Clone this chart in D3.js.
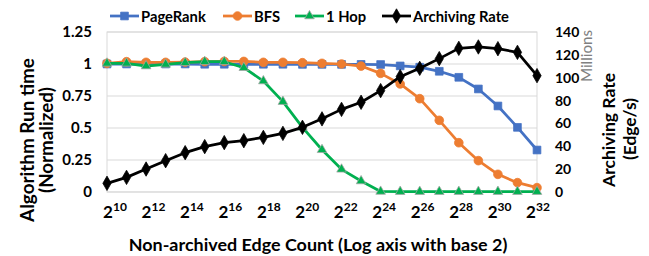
<!DOCTYPE html>
<html>
<head>
<meta charset="utf-8">
<script src="https://cdn.jsdelivr.net/npm/d3@7"></script>
<style>
  body { margin: 0; background: #fff; }
  svg text { font-family: Lato, "Open Sans", sans-serif; font-weight: bold; fill: #000; }
</style>
</head>
<body>
<div id="chart"></div>
<script>
// exponents of the x axis (2^10 .. 2^32)
var exponents = d3.range(10, 33);
var labelExps = [10, 12, 14, 16, 18, 20, 22, 24, 26, 28, 30, 32];
var leftTicks = [0, 0.25, 0.5, 0.75, 1, 1.25];
var rightTicks = [0, 20, 40, 60, 80, 100, 120, 140];

// normalized run time
var pageRank = [1.0, 1.0, 1.0, 1.0, 1.0, 0.998, 0.998, 0.998, 0.998, 0.998, 0.997, 0.997, 0.997, 0.997, 0.996, 0.985, 0.975, 0.943, 0.896, 0.805, 0.672, 0.505, 0.328];
var bfs = [1.005, 1.018, 1.013, 1.013, 1.015, 1.018, 1.02, 1.02, 1.013, 1.013, 1.01, 1.005, 1.0, 0.984, 0.927, 0.844, 0.729, 0.56, 0.385, 0.245, 0.138, 0.073, 0.034];
var oneHop = [1.005, 1.005, 0.984, 0.997, 1.01, 1.018, 1.018, 0.971, 0.867, 0.706, 0.505, 0.33, 0.177, 0.086, 0.004, 0.003, 0.003, 0.003, 0.003, 0.003, 0.003, 0.003, 0.003];
// archiving rate, millions of edges per second
var archRate = [7.6, 12.8, 20.1, 27.4, 34.4, 39.7, 43.2, 44.9, 47.8, 51.3, 56.6, 64.0, 72.3, 78.5, 88.7, 100.9, 108.2, 116.7, 125.7, 126.9, 125.4, 122.2, 101.8];

var W = 649, H = 256;
var svg = d3.select("#chart").append("svg")
    .attr("width", W)
    .attr("height", H);

var x = d3.scaleLinear().domain([10, 32]).range([107, 537]);
var y = d3.scaleLinear().domain([0, 1.25]).range([192, 32]);
var y2 = d3.scaleLinear().domain([0, 140]).range([192, 32]);
// the tick labels sit a little off the points, as in the original
var xLab = d3.scalePoint().domain(labelExps).range([115, 538]);

// font size that makes a text span about the width seen in the original
function fitSize(sel, target) {
    var w = sel.node().getComputedTextLength();
    var fs = parseFloat(sel.style("font-size"));
    return fs * target / w;
}
function fit(sel, target) {
    sel.style("font-size", fitSize(sel, target) + "px");
}

// gridlines
svg.append("g").selectAll("line")
    .data(leftTicks)
    .enter().append("line")
    .attr("x1", x(10)).attr("x2", x(32))
    .attr("y1", function(d) { return y(d); })
    .attr("y2", function(d) { return y(d); })
    .attr("stroke", "#d9d9d9")
    .attr("stroke-width", 1);

svg.append("rect")
    .attr("x", x(10)).attr("y", y(1.25))
    .attr("width", x(32) - x(10))
    .attr("height", y(0) - y(1.25))
    .attr("fill", "none")
    .attr("stroke", "#d9d9d9");

// left axis
var gl = svg.append("g")
    .attr("transform", "translate(" + x(10) + ",0)")
    .call(d3.axisLeft(y).tickValues(leftTicks).tickSize(0).tickPadding(15).tickFormat(d3.format("")));
gl.select(".domain").remove();
gl.selectAll("text").style("font-size", "15px");

// right axis
var gr = svg.append("g")
    .attr("transform", "translate(" + x(32) + ",0)")
    .call(d3.axisRight(y2).tickValues(rightTicks).tickSize(0).tickPadding(18));
gr.select(".domain").remove();
gr.selectAll("text").style("font-size", "14px");

// x labels 2^n
var xl = svg.append("g").selectAll("text")
    .data(labelExps)
    .enter().append("text")
    .attr("x", function(d) { return xLab(d); })
    .attr("y", 218)
    .attr("text-anchor", "middle")
    .style("font-size", "17px");
xl.append("tspan").text("2");
xl.append("tspan")
    .attr("dy", -7)
    .style("font-size", "12px")
    .text(function(d) { return d; });

// axis titles
var xt = svg.append("text")
    .attr("x", 318).attr("y", 251)
    .attr("text-anchor", "middle")
    .style("font-size", "16px")
    .text("Non-archived Edge Count (Log axis with base 2)");
fit(xt, 379);

function vTitle(cx, cy, txt, len) {
    var t = svg.append("text")
        .attr("transform", "translate(" + cx + "," + cy + ") rotate(-90)")
        .attr("text-anchor", "middle")
        .style("font-size", "16px")
        .text(txt);
    fit(t, len);
    return t;
}
vTitle(34, 140, "Algorithm Run time", 164);
vTitle(53, 140, "(Normalized)", 106);
vTitle(615, 130, "Archiving Rate", 114);
vTitle(636, 129, "(Edge/s)", 62);

var mil = svg.append("text")
    .attr("transform", "translate(592,56) rotate(-90)")
    .attr("text-anchor", "middle")
    .style("font-size", "12px")
    .style("font-weight", "normal")
    .style("fill", "#808080")
    .text("Millions");
fit(mil, 52);

// series
var series = [
    { name: "PageRank", values: pageRank, scale: y, color: "#4472C4", marker: d3.symbolSquare, size: 60, mstroke: "#4472C4" },
    { name: "BFS", values: bfs, scale: y, color: "#ED7D31", marker: d3.symbolCircle, size: 60, mstroke: "#ED7D31" },
    { name: "1 Hop", values: oneHop, scale: y, color: "#00B050", marker: d3.symbolTriangle, size: 40, mstroke: "#a5a5a5" },
    { name: "Archiving Rate", values: archRate, scale: y2, color: "#000000", marker: d3.symbolDiamond, size: 60, mstroke: "#000000" }
];

series.forEach(function(s) {
    var pts = s.values.map(function(v, i) { return [exponents[i], v]; });
    var line = d3.line()
        .x(function(d) { return x(d[0]); })
        .y(function(d) { return s.scale(d[1]); });
    var g = svg.append("g");
    g.append("path")
        .datum(pts)
        .attr("d", line)
        .attr("fill", "none")
        .attr("stroke", s.color)
        .attr("stroke-width", 2.75)
        .attr("stroke-linejoin", "round");
    g.selectAll("path.pt")
        .data(pts)
        .enter().append("path")
        .attr("class", "pt")
        .attr("d", d3.symbol().type(s.marker).size(s.size))
        .attr("transform", function(d) { return "translate(" + x(d[0]) + "," + s.scale(d[1]) + ")"; })
        .attr("fill", s.color)
        .attr("stroke", s.mstroke)
        .attr("stroke-width", 0.75);
});

// legend
var legendX = [110, 223, 295, 382];
var leg = svg.append("g").selectAll("g")
    .data(series)
    .enter().append("g")
    .attr("transform", function(d, i) { return "translate(" + legendX[i] + ",16)"; });
leg.append("line")
    .attr("x1", 0).attr("x2", 29)
    .attr("stroke", function(d) { return d.color; })
    .attr("stroke-width", 2.75);
leg.append("path")
    .attr("d", function(d) { return d3.symbol().type(d.marker).size(d.size)(); })
    .attr("transform", "translate(14.5,0)")
    .attr("fill", function(d) { return d.color; })
    .attr("stroke", function(d) { return d.mstroke; })
    .attr("stroke-width", 0.75);
var legText = leg.append("text")
    .attr("x", 31).attr("y", 5.5)
    .style("font-size", "15px")
    .text(function(d) { return d.name; });
// one size for all legend entries, taken from the longest one
var legSize = fitSize(legText.filter(function(d) { return d.name === "Archiving Rate"; }), 96);
legText.style("font-size", legSize + "px");
</script>
</body>
</html>
